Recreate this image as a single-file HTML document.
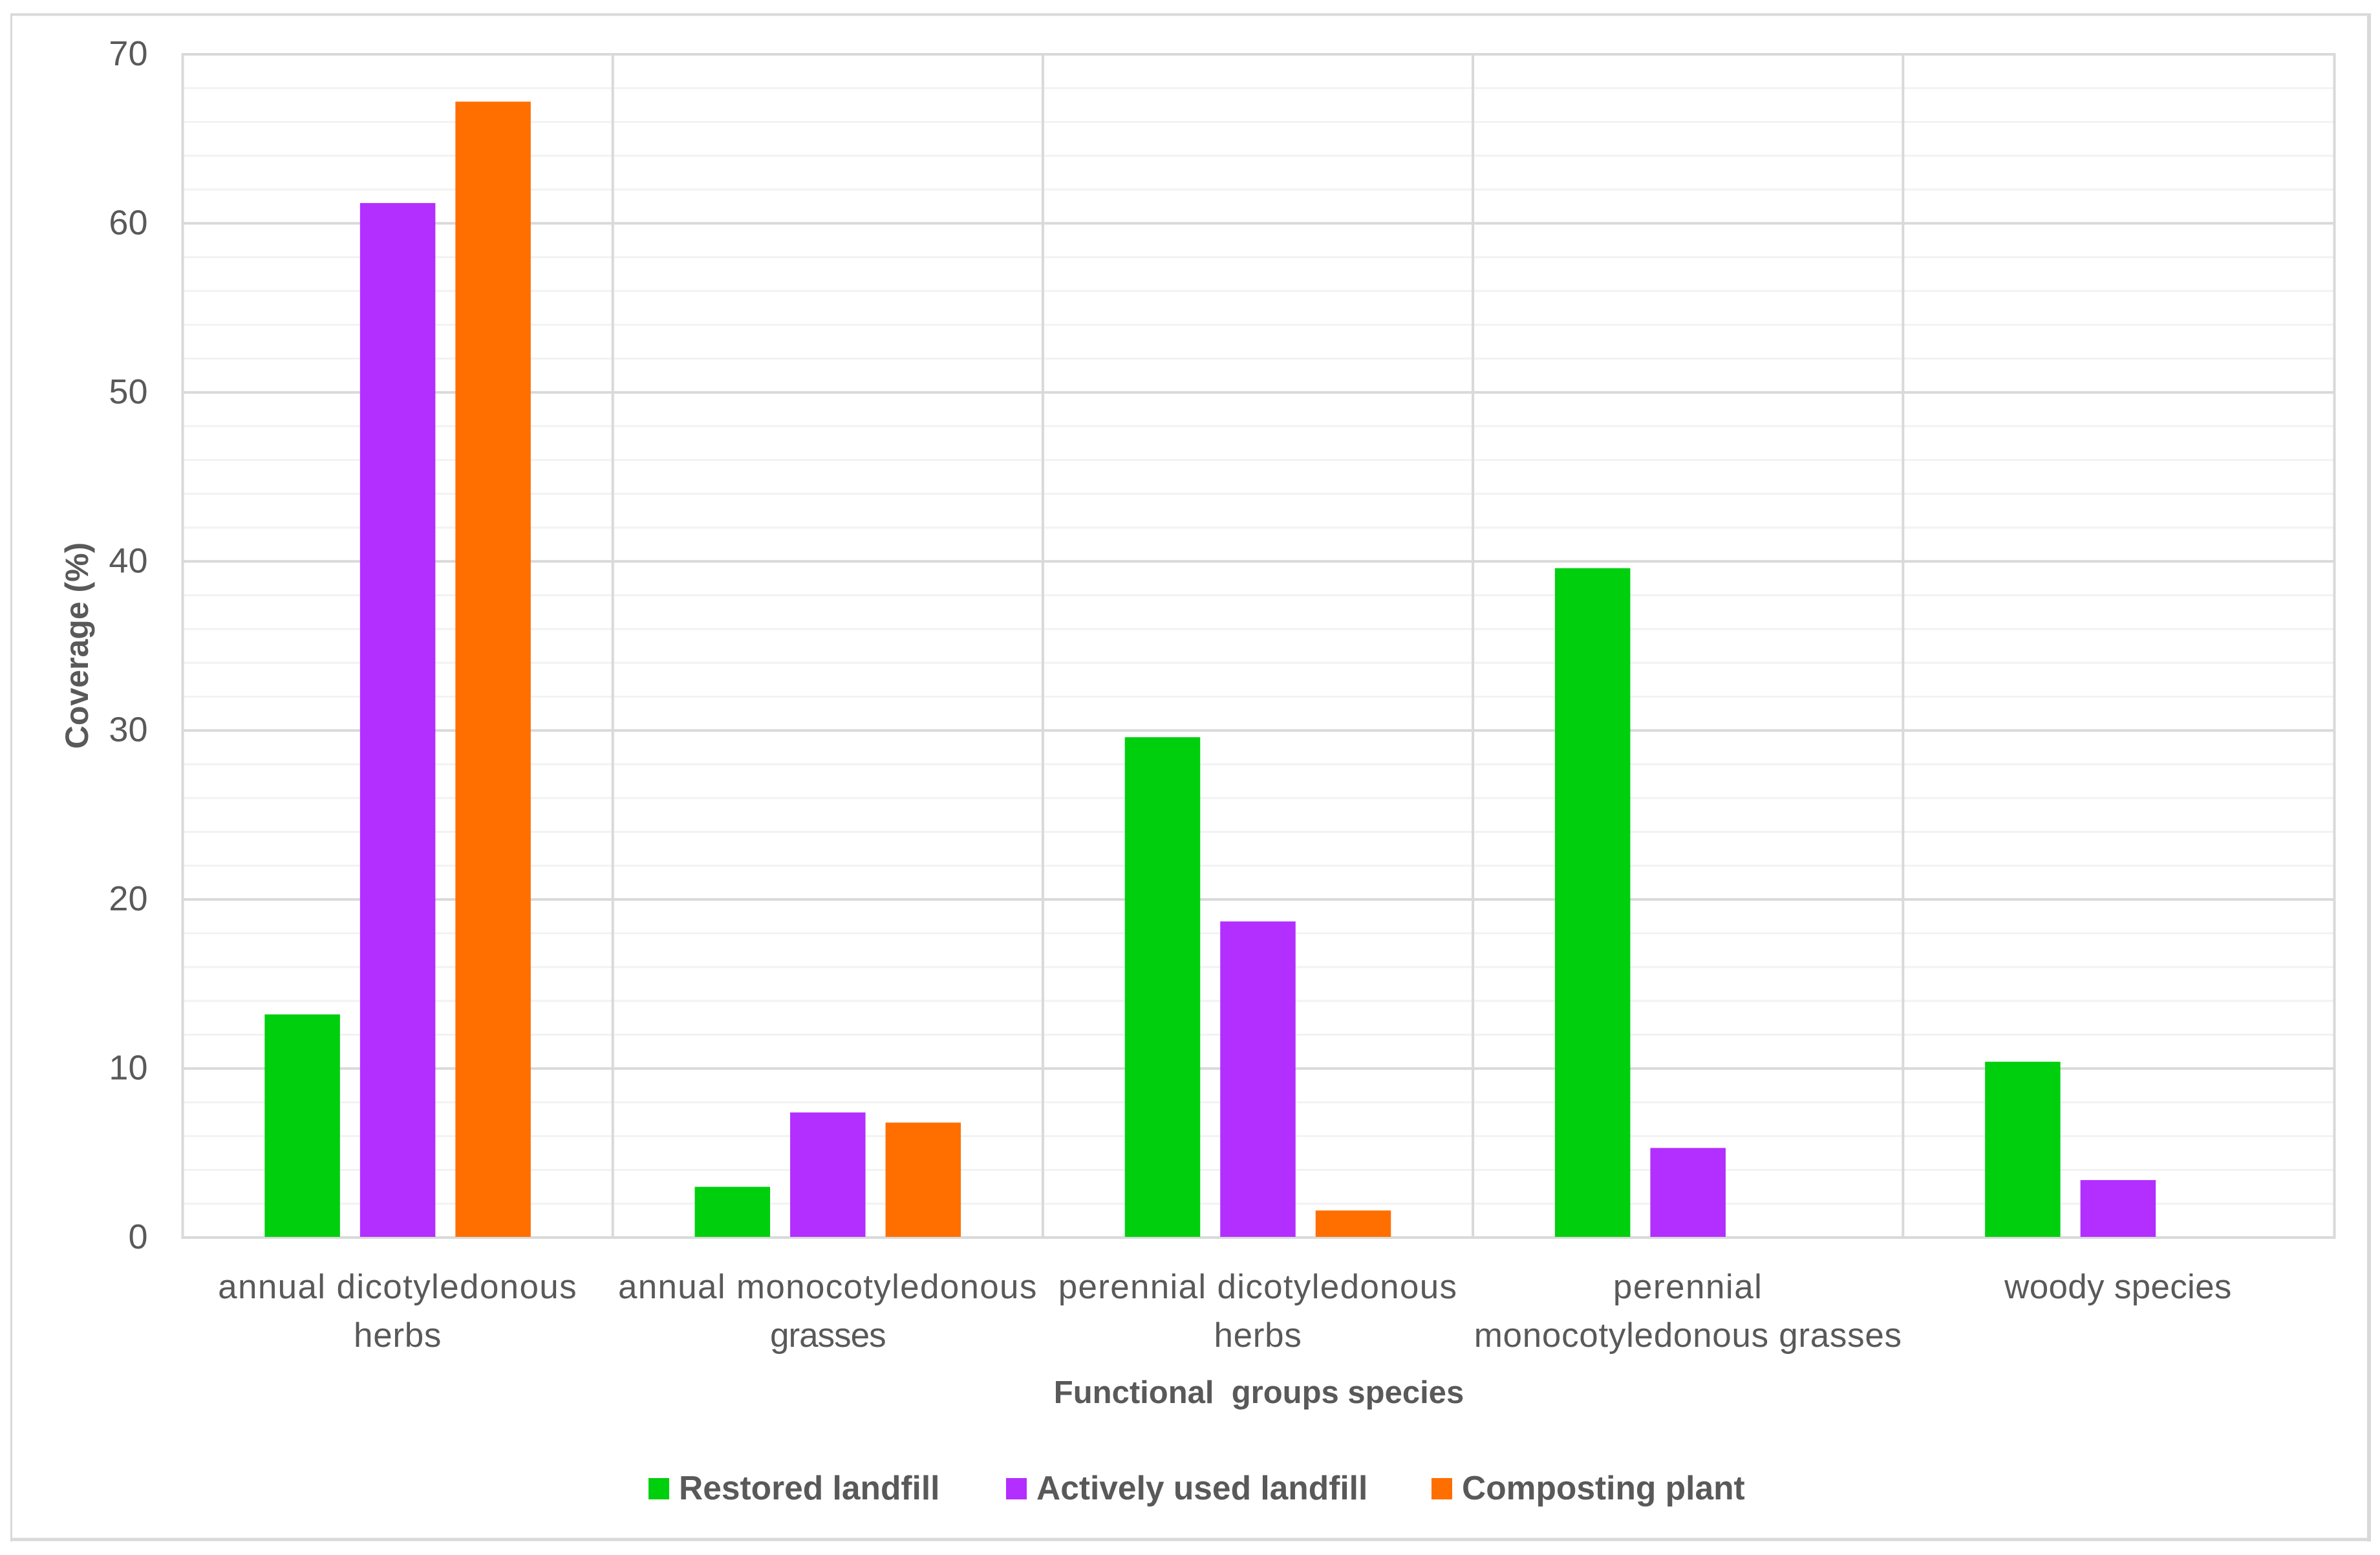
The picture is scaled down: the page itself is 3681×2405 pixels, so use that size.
<!DOCTYPE html>
<html lang="en">
<head>
<meta charset="utf-8">
<title>Coverage by functional group</title>
<style>
html,body{margin:0;padding:0;background:#fff;}
svg{display:block;}
text{font-family:"Liberation Sans",sans-serif;fill:#595959;}
</style>
</head>
<body>
<svg id="chart" xmlns="http://www.w3.org/2000/svg" width="3681" height="2405" viewBox="0 0 3681 2405">
  <rect x="0" y="0" width="3681" height="2405" fill="#ffffff"/>
  <g stroke="#d9d9d9">
    <line x1="16" x2="3667" y1="22.5" y2="22.5" stroke-width="4"/>
    <line x1="17.5" x2="17.5" y1="21" y2="2384" stroke-width="3"/>
    <line x1="3664" x2="3664" y1="21" y2="2384" stroke-width="6"/>
    <line x1="16" x2="3667" y1="2381" y2="2381" stroke-width="5"/>
  </g>
  <g id="grid"></g>
  <g id="bars"></g>
  <g id="yticks"></g>
  <g id="xticks"></g>
  <text transform="translate(136,998.5) rotate(-90)" text-anchor="middle" font-size="50" font-weight="700">Coverage (%)</text>
  <text x="1947" y="2170" text-anchor="middle" font-size="49" font-weight="700">Functional&#160; groups species</text>
  <g id="legend"></g>
</svg>
<script>
const categories = [
  ["annual dicotyledonous", "herbs"],
  ["annual monocotyledonous", "grasses"],
  ["perennial dicotyledonous", "herbs"],
  ["perennial", "monocotyledonous grasses"],
  ["woody species"]
];
const restoredLandfill = [13.2, 3.0, 29.6, 39.6, 10.4];
const activelyUsedLandfill = [61.2, 7.4, 18.7, 5.3, 3.4];
const compostingPlant = [67.2, 6.8, 1.6, 0, 0];
const seriesNames = ["Restored landfill", "Actively used landfill", "Composting plant"];
const yTickLabels = [0, 10, 20, 30, 40, 50, 60, 70];
const yMinorStep = 2;

const NS = "http://www.w3.org/2000/svg";
const seriesValues = [restoredLandfill, activelyUsedLandfill, compostingPlant];
const seriesColors = ["#00cf0e", "#b22fff", "#ff6f00"];
const plot = {left: 282.5, right: 3610.5, top: 84, bottom: 1914};
const yMax = yTickLabels[yTickLabels.length - 1];
const bandWidth = 665.2;
const barWidth = 116.5;
const barGap = 31;
const labelTracking = [[1.35, 0.7], [1.3, -1], [1.3, 0.7], [1.5, 0.7], [0.3]];

function yScale(v) {
  return plot.bottom - (v / yMax) * (plot.bottom - plot.top);
}
function bandLeft(i) {
  return plot.left + i * bandWidth;
}
function barX(catIndex, seriesIndex) {
  const n = seriesValues.length;
  const total = n * barWidth + (n - 1) * barGap;
  return bandLeft(catIndex) + (bandWidth - total) / 2 + seriesIndex * (barWidth + barGap);
}
function make(tag, attrs, parent) {
  const el = document.createElementNS(NS, tag);
  for (const k in attrs) el.setAttribute(k, attrs[k]);
  parent.appendChild(el);
  return el;
}

const grid = document.getElementById("grid");
const barsGroup = document.getElementById("bars");
const yticks = document.getElementById("yticks");
const xticks = document.getElementById("xticks");
const legend = document.getElementById("legend");

for (let v = yMinorStep; v < yMax; v += yMinorStep) {
  if (yTickLabels.includes(v)) continue;
  const el = make("line", {x1: plot.left, x2: plot.right, y1: yScale(v), y2: yScale(v), stroke: "#f2f2f2", "stroke-width": 3}, grid);
  
  
}
yTickLabels.forEach(function (v) {
  const el = make("line", {x1: plot.left, x2: plot.right, y1: yScale(v), y2: yScale(v), stroke: "#d9d9d9", "stroke-width": 4}, grid);
  
  
  const t = make("text", {x: 228.5, y: yScale(v) + 17, "text-anchor": "end", "font-size": 54}, yticks);
  t.textContent = v;
  
  
});
for (let i = 0; i < categories.length; i++) {
  const el = make("line", {x1: bandLeft(i), x2: bandLeft(i), y1: plot.top - 2, y2: plot.bottom + 2, stroke: "#d9d9d9", "stroke-width": 4}, grid);
  
  
}
const plotRightEdge = make("line", {x1: plot.right, x2: plot.right, y1: plot.top - 2, y2: plot.bottom + 2, stroke: "#d9d9d9", "stroke-width": 4}, grid);



seriesValues.forEach(function (values, s) {
  values.forEach(function (v, c) {
    const h = plot.bottom - 1 - yScale(v);
    const el = make("rect", {x: barX(c, s), y: yScale(v), width: barWidth, height: h > 0 ? h : 0, fill: seriesColors[s]}, barsGroup);
    
    
  });
});

categories.forEach(function (lines, c) {
  lines.forEach(function (line, l) {
    const t = make("text", {x: bandLeft(c) + bandWidth / 2, y: 2008 + l * 75, "text-anchor": "middle", "font-size": 53, "letter-spacing": labelTracking[c][l]}, xticks);
    t.textContent = line;
    
    
  });
});

const legendSwatchX = [1003, 1556, 2214];
seriesNames.forEach(function (name, s) {
  const r = make("rect", {x: legendSwatchX[s], y: 2286, width: 32, height: 33, fill: seriesColors[s]}, legend);
  
  
  const t = make("text", {x: legendSwatchX[s] + 47, y: 2319, "font-size": 51.5, "font-weight": 700}, legend);
  t.textContent = name;
  
  
});
</script>
</body>
</html>
